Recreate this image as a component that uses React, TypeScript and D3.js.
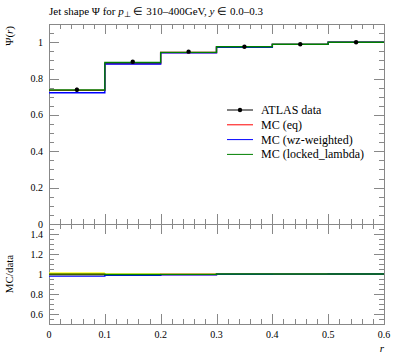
import { useEffect, useRef } from 'react';
import * as d3 from 'd3';

const binEdges = [0, 0.1, 0.2, 0.3, 0.4, 0.5, 0.6];
const dataValues = [0.738, 0.892, 0.948, 0.975, 0.989, 1.0];
const dataErrors = [0.012, 0.006, 0.004, 0.003, 0.002, 0.001];
const mcEq = [0.735, 0.882, 0.943, 0.973, 0.988, 1.0];
const mcWz = [0.722, 0.880, 0.941, 0.972, 0.988, 1.0];
const mcLocked = [0.737, 0.888, 0.944, 0.975, 0.989, 1.0];
const xTicks = [0, 0.1, 0.2, 0.3, 0.4, 0.5, 0.6];
const mainYTicks = [0, 0.2, 0.4, 0.6, 0.8, 1];
const ratioYTicks = [0.6, 0.8, 1, 1.2, 1.4];

const series = [
  { name: 'MC (eq)', values: mcEq, color: '#ff0000' },
  { name: 'MC (wz-weighted)', values: mcWz, color: '#0000ff' },
  { name: 'MC (locked_lambda)', values: mcLocked, color: '#008000' },
];

export default function App() {
  const svgRef = useRef<SVGSVGElement>(null);

  useEffect(() => {
    if (!svgRef.current) return;
    const svg = d3.select(svgRef.current);
    svg.selectAll('*').remove();

    const left = 49;
    const right = 384;
    const mainTop = 24;
    const mainBottom = 224;
    const ratioBottom = 324;
    const font = "'Liberation Serif', serif";

    const x = d3.scaleLinear().domain([0, 0.6]).range([left, right]);
    const y = d3.scaleLinear().domain([0, 1.1]).range([mainBottom, mainTop]);
    const yr = d3.scaleLinear().domain([0.5, 1.5]).range([ratioBottom, mainBottom]);

    const stepPath = (vals: number[], sc: d3.ScaleLinear<number, number>) => {
      const pts: [number, number][] = vals.map((v, i) => [binEdges[i], v]);
      pts.push([binEdges[binEdges.length - 1], vals[vals.length - 1]]);
      return d3
        .line<[number, number]>()
        .x((d) => x(d[0]))
        .y((d) => sc(d[1]))
        .curve(d3.curveStepAfter)(pts);
    };

    const tickColor = '#888';
    const drawTicks = (
      sc: d3.ScaleLinear<number, number>,
      lo: number,
      hi: number,
      major: number,
      minor: number,
      vertical: boolean,
      edges: { pos: number; dir: number }[]
    ) => {
      const g = svg.append('g').attr('stroke', tickColor).attr('stroke-width', 1);
      const n = Math.round((hi - lo) / minor);
      for (let i = 0; i <= n; i++) {
        const v = lo + i * minor;
        const isMajor = Math.abs(v / major - Math.round(v / major)) < 1e-6;
        const len = isMajor ? 10 : 5;
        const p = Math.round(sc(v)) + 0.5;
        edges.forEach(({ pos, dir }) => {
          if (vertical) {
            g.append('line').attr('x1', p).attr('x2', p).attr('y1', pos).attr('y2', pos + dir * len);
          } else {
            g.append('line').attr('y1', p).attr('y2', p).attr('x1', pos).attr('x2', pos + dir * len);
          }
        });
      }
    };

    // x ticks on main (top + bottom) and ratio (top + bottom)
    drawTicks(x, 0, 0.6, 0.1, 0.02, true, [
      { pos: mainTop, dir: 1 },
      { pos: mainBottom, dir: -1 },
      { pos: mainBottom, dir: 1 },
      { pos: ratioBottom, dir: -1 },
    ]);
    drawTicks(y, 0, 1.1, 0.2, 0.05, false, [
      { pos: left, dir: 1 },
      { pos: right, dir: -1 },
    ]);
    drawTicks(yr, 0.5, 1.5, 0.2, 0.05, false, [
      { pos: left, dir: 1 },
      { pos: right, dir: -1 },
    ]);

    // frames
    svg
      .append('rect')
      .attr('x', left + 0.5)
      .attr('y', mainTop + 0.5)
      .attr('width', right - left)
      .attr('height', mainBottom - mainTop)
      .attr('fill', 'none')
      .attr('stroke', tickColor);
    svg
      .append('rect')
      .attr('x', left + 0.5)
      .attr('y', mainBottom + 0.5)
      .attr('width', right - left)
      .attr('height', ratioBottom - mainBottom)
      .attr('fill', 'none')
      .attr('stroke', tickColor);

    // tick labels
    const tickSize = 10;
    svg
      .append('g')
      .selectAll('text')
      .data(mainYTicks)
      .join('text')
      .attr('x', left - 6)
      .attr('y', (d) => y(d) + 3.5)
      .attr('text-anchor', 'end')
      .attr('font-family', font)
      .attr('font-size', tickSize)
      .text((d) => String(d));
    svg
      .append('g')
      .selectAll('text')
      .data(ratioYTicks)
      .join('text')
      .attr('x', left - 6)
      .attr('y', (d) => yr(d) + 3.5)
      .attr('text-anchor', 'end')
      .attr('font-family', font)
      .attr('font-size', tickSize)
      .text((d) => String(d));
    svg
      .append('g')
      .selectAll('text')
      .data(xTicks)
      .join('text')
      .attr('x', (d) => x(d))
      .attr('y', 338)
      .attr('text-anchor', 'middle')
      .attr('font-family', font)
      .attr('font-size', tickSize)
      .text((d) => String(d));

    // ratio band (data uncertainty)
    const band = svg.append('g');
    dataValues.forEach((v, i) => {
      const rel = dataErrors[i] / v;
      band
        .append('rect')
        .attr('x', x(binEdges[i]))
        .attr('width', x(binEdges[i + 1]) - x(binEdges[i]))
        .attr('y', yr(1 + rel))
        .attr('height', yr(1 - rel) - yr(1 + rel))
        .attr('fill', '#ffff00');
    });

    // MC lines main + ratio
    series.forEach((s) => {
      svg
        .append('path')
        .attr('d', stepPath(s.values, y))
        .attr('fill', 'none')
        .attr('stroke', s.color)
        .attr('stroke-width', 1.4);
      svg
        .append('path')
        .attr('d', stepPath(s.values.map((v, i) => v / dataValues[i]), yr))
        .attr('fill', 'none')
        .attr('stroke', s.color)
        .attr('stroke-width', 1.4);
    });

    // data points
    const dg = svg.append('g');
    dataValues.forEach((v, i) => {
      const cx = x((binEdges[i] + binEdges[i + 1]) / 2);
      dg.append('line')
        .attr('x1', cx)
        .attr('x2', cx)
        .attr('y1', y(v - dataErrors[i]))
        .attr('y2', y(v + dataErrors[i]))
        .attr('stroke', '#000')
        .attr('stroke-width', 1);
      dg.append('circle').attr('cx', cx).attr('cy', y(v)).attr('r', 2.2).attr('fill', '#000');
    });

    // title
    const title = svg
      .append('text')
      .attr('x', left)
      .attr('y', 15)
      .attr('font-family', font)
      .attr('font-size', 11);
    title.append('tspan').text('Jet shape Ψ for ');
    title.append('tspan').attr('font-style', 'italic').text('p');
    title.append('tspan').attr('font-size', 8).attr('dy', 2).text('⊥');
    title.append('tspan').attr('dy', -2).text(' ∈ 310–400GeV, ');
    title.append('tspan').attr('font-style', 'italic').text('y');
    title.append('tspan').text(' ∈ 0.0–0.3');

    // axis labels
    const ylab = svg
      .append('text')
      .attr('transform', `translate(13,${mainTop + 2}) rotate(-90)`)
      .attr('text-anchor', 'end')
      .attr('font-family', font)
      .attr('font-size', 11);
    ylab.append('tspan').text('Ψ(');
    ylab.append('tspan').attr('font-style', 'italic').text('r');
    ylab.append('tspan').text(')');
    svg
      .append('text')
      .attr('transform', `translate(13,${(mainBottom + ratioBottom) / 2}) rotate(-90)`)
      .attr('text-anchor', 'middle')
      .attr('font-family', font)
      .attr('font-size', 11)
      .text('MC/data');
    svg
      .append('text')
      .attr('x', right)
      .attr('y', 352)
      .attr('text-anchor', 'end')
      .attr('font-family', font)
      .attr('font-style', 'italic')
      .attr('font-size', 11)
      .text('r');

    // legend
    const legend = svg.append('g').attr('transform', 'translate(227,110)');
    const entries = [{ name: 'ATLAS data', color: '#000' }, ...series];
    entries.forEach((e, i) => {
      const row = legend.append('g').attr('transform', `translate(0,${i * 14.8})`);
      row
        .append('line')
        .attr('x1', 0)
        .attr('x2', 26)
        .attr('y1', 0)
        .attr('y2', 0)
        .attr('stroke', e.color)
        .attr('stroke-width', 1);
      if (i === 0) row.append('circle').attr('cx', 13).attr('cy', 0).attr('r', 2.2).attr('fill', '#000');
      row
        .append('text')
        .attr('x', 34)
        .attr('y', 4)
        .attr('font-family', font)
        .attr('font-size', 12)
        .text(e.name);
    });
  }, []);

  return (
    <svg
      ref={svgRef}
      width={397}
      height={358}
      style={{ position: 'absolute', left: 0, top: 0, background: '#fff' }}
    />
  );
}
